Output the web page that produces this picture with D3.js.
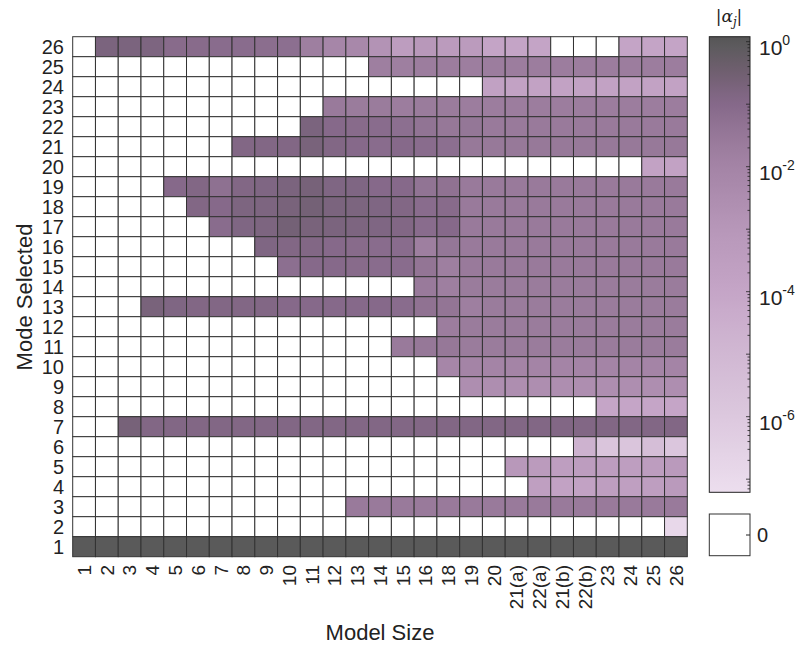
<!DOCTYPE html>
<html>
<head>
<meta charset="utf-8">
<script src="https://cdn.jsdelivr.net/npm/d3@7"></script>
<style>
  body { margin: 0; background: #fff; }
  text { font-family: "Liberation Sans", Arial, sans-serif; fill: #222; }
</style>
</head>
<body>
<svg id="chart" width="795" height="649"></svg>
<script>
// model sizes along x
const sizes = ["1","2","3","4","5","6","7","8","9","10","11","12","13","14","15","16",
  "18","19","20","21(a)","22(a)","21(b)","22(b)","23","24","25","26"];
// modes, listed top row first
const modes = [26,25,24,23,22,21,20,19,18,17,16,15,14,13,12,11,10,9,8,7,6,5,4,3,2,1];

// log10 |alpha_j| per cell, null = exactly zero (white). one row per mode, top first
const N = null;
const logAlpha = [
  /*26*/ [N,-0.75,-0.75,-0.8,-1.05,-1.05,-1.1,-1.1,-1.15,-1.2, -1.8,-2.1,-2.2,-2.8,-3.4,-3.1,-3.3,-3.3,-3.9,-3.9, -3.9,N,N,N,-3.9,-3.9,-3.9],
  /*25*/ [N,N,N,N,N,N,N,N,N,N, N,N,N,-1.8,-1.8,-1.7,-1.7,-1.75,-1.7,-1.7, -1.7,-1.7,-1.7,-1.7,-1.7,-1.7,-1.7],
  /*24*/ [N,N,N,N,N,N,N,N,N,N, N,N,N,N,N,N,N,N,-3.7,-3.8, -3.8,-3.8,-3.8,-3.8,-3.8,-3.8,-3.8],
  /*23*/ [N,N,N,N,N,N,N,N,N,N, N,-1.6,-1.65,-1.65,-1.7,-1.65,-1.65,-1.7,-1.7,-1.7, -1.7,-1.7,-1.7,-1.7,-1.7,-1.7,-1.7],
  /*22*/ [N,N,N,N,N,N,N,N,N,N, -0.75,-1.0,-1.05,-1.1,-1.2,-1.35,-1.5,-1.45,-1.6,-1.6, -1.6,-1.6,-1.6,-1.6,-1.6,-1.6,-1.6],
  /*21*/ [N,N,N,N,N,N,N,-0.9,-0.9,-0.9, -0.7,-0.9,-1.0,-1.1,-1.0,-1.1,-1.2,-1.55,-1.55,-1.55, -1.55,-1.55,-1.55,-1.55,-1.55,-1.55,-1.55],
  /*20*/ [N,N,N,N,N,N,N,N,N,N, N,N,N,N,N,N,N,N,N,N, N,N,N,N,N,-3.8,-3.8],
  /*19*/ [N,N,N,N,-1.0,-0.9,-1.25,-0.9,-0.85,-0.75, -0.65,-0.85,-0.85,-1.0,-1.0,-1.35,-1.3,-1.6,-1.6,-1.6, -1.6,-1.6,-1.6,-1.6,-1.6,-1.6,-1.6],
  /*18*/ [N,N,N,N,N,-0.9,-1.0,-0.8,-0.8,-0.7, -0.6,-0.75,-0.78,-0.85,-0.9,-1.1,-1.05,-1.6,-1.6,-1.6, -1.6,-1.6,-1.6,-1.6,-1.6,-1.6,-1.6],
  /*17*/ [N,N,N,N,N,N,-1.1,-0.85,-0.8,-0.6, -0.7,-0.75,-0.8,-0.85,-0.9,-1.1,-1.0,-1.6,-1.6,-1.6, -1.6,-1.6,-1.6,-1.6,-1.6,-1.6,-1.6],
  /*16*/ [N,N,N,N,N,N,N,N,-0.85,-0.9, -0.9,-1.0,-1.05,-1.1,-1.1,-1.8,-1.45,-1.6,-1.6,-1.6, -1.6,-1.6,-1.6,-1.6,-1.6,-1.6,-1.6],
  /*15*/ [N,N,N,N,N,N,N,N,N,-1.2, -1.0,-1.0,-1.05,-1.1,-1.1,-1.4,-1.8,-1.6,-1.6,-1.6, -1.6,-1.6,-1.6,-1.6,-1.6,-1.6,-1.6],
  /*14*/ [N,N,N,N,N,N,N,N,N,N, N,N,N,N,N,-1.6,-1.8,-1.65,-1.65,-1.65, -1.65,-1.65,-1.65,-1.65,-1.65,-1.65,-1.65],
  /*13*/ [N,N,N,-0.7,-0.85,-0.9,-0.9,-0.9,-0.9,-1.0, -1.0,-1.0,-1.0,-1.0,-1.1,-1.3,-1.4,-1.8,-1.65,-1.65, -1.65,-1.65,-1.65,-1.65,-1.65,-1.65,-1.65],
  /*12*/ [N,N,N,N,N,N,N,N,N,N, N,N,N,N,N,N,-1.7,-1.65,-1.65,-1.65, -1.65,-1.65,-1.65,-1.65,-1.65,-1.65,-1.65],
  /*11*/ [N,N,N,N,N,N,N,N,N,N, N,N,N,N,-1.6,-1.5,-1.5,-1.65,-1.65,-1.65, -1.65,-1.65,-1.65,-1.65,-1.65,-1.65,-1.65],
  /*10*/ [N,N,N,N,N,N,N,N,N,N, N,N,N,N,N,N,-2.1,-2.0,-2.0,-2.0, -2.0,-2.0,-2.0,-2.0,-2.0,-2.0,-2.0],
  /* 9*/ [N,N,N,N,N,N,N,N,N,N, N,N,N,N,N,N,N,-2.5,-2.5,-2.5, -2.5,-2.5,-2.5,-2.5,-2.5,-2.5,-2.5],
  /* 8*/ [N,N,N,N,N,N,N,N,N,N, N,N,N,N,N,N,N,N,N,N, N,N,N,-4.0,-4.0,-4.0,-4.0],
  /* 7*/ [N,N,-0.65,-0.9,-0.9,-0.9,-0.9,-0.9,-0.9,-0.9, -0.9,-0.9,-0.9,-0.9,-0.9,-0.9,-0.9,-0.9,-0.9,-0.9, -0.9,-0.9,-0.9,-0.9,-0.9,-0.9,-0.9],
  /* 6*/ [N,N,N,N,N,N,N,N,N,N, N,N,N,N,N,N,N,N,N,N, N,N,-4.7,-5.8,-5.8,-5.4,-5.9],
  /* 5*/ [N,N,N,N,N,N,N,N,N,N, N,N,N,N,N,N,N,N,N,-3.1, -3.3,-3.5,-3.4,-3.4,-3.5,-3.4,-3.2],
  /* 4*/ [N,N,N,N,N,N,N,N,N,N, N,N,N,N,N,N,N,N,N,N, -3.6,-3.8,-3.8,-3.5,-3.6,-3.5,-3.2],
  /* 3*/ [N,N,N,N,N,N,N,N,N,N, N,N,-1.6,-1.6,-1.6,-1.6,-1.6,-1.6,-1.6,-1.6, -1.6,-1.6,-1.6,-1.6,-1.6,-1.6,-1.6],
  /* 2*/ [N,N,N,N,N,N,N,N,N,N, N,N,N,N,N,N,N,N,N,N, N,N,N,N,N,N,-6.9],
  /* 1*/ [0,0,0,0,0,0,0,0,0,0, 0,0,0,0,0,0,0,0,0,0, 0,0,0,0,0,0,0]
];

// colorbar range (log10) and labelled decades
const cbDomain = [-7.21, 0.08];
const cbLabels = [0, -2, -4, -6];

const svg = d3.select("#chart");

const x = d3.scaleBand().domain(sizes).range([72.7, 687.3]);
const y = d3.scaleBand().domain(modes).range([36.7, 556.7]);

const color = d3.scaleLinear()
    .domain([0.08, 0, -0.5, -1, -1.5, -2, -3, -4, -5, -6, -7.21])
    .range(["#565656", "#5a5a5a", "#705f71", "#86698a", "#967898", "#a484a6",
            "#b797b9", "#c5a5c7", "#d1b8d3", "#dcc8de", "#ecdeee"])
    .clamp(true);

// cells
const cells = [];
logAlpha.forEach((row, i) => row.forEach((v, j) => cells.push({mode: modes[i], size: sizes[j], v})));

svg.append("g")
  .selectAll("rect")
  .data(cells)
  .join("rect")
    .attr("x", d => x(d.size))
    .attr("y", d => y(d.mode))
    .attr("width", x.bandwidth())
    .attr("height", y.bandwidth())
    .attr("fill", d => d.v === null ? "#fff" : color(d.v))
    .attr("stroke", "#333")
    .attr("stroke-width", 1);

// y tick labels
svg.append("g")
  .selectAll("text")
  .data(modes)
  .join("text")
    .attr("x", 64)
    .attr("y", d => y(d) + y.bandwidth() / 2)
    .attr("dy", "0.36em")
    .attr("text-anchor", "end")
    .attr("font-size", 20)
    .text(d => d);

// x tick labels (rotated)
svg.append("g")
  .selectAll("text")
  .data(sizes)
  .join("text")
    .attr("transform", d => `translate(${x(d) + x.bandwidth() / 2},565) rotate(-90)`)
    .attr("dy", "0.36em")
    .attr("text-anchor", "end")
    .attr("font-size", 19)
    .text(d => d);

svg.append("text")
    .attr("x", 380).attr("y", 640)
    .attr("text-anchor", "middle")
    .attr("font-size", 22)
    .text("Model Size");

svg.append("text")
    .attr("transform", "translate(32,297) rotate(-90)")
    .attr("text-anchor", "middle")
    .attr("font-size", 22)
    .text("Mode Selected");

// colorbar
const cbX = 709.3, cbW = 40.7, cbTop = 36.7, cbBot = 492.3;
const cbScale = d3.scaleLinear().domain(cbDomain).range([cbBot, cbTop]);

const grad = svg.append("defs").append("linearGradient")
    .attr("id", "cbgrad")
    .attr("x1", 0).attr("y1", 1).attr("x2", 0).attr("y2", 0);
grad.selectAll("stop")
  .data(d3.range(0, 41))
  .join("stop")
    .attr("offset", d => d / 40)
    .attr("stop-color", d => color(cbDomain[0] + (cbDomain[1] - cbDomain[0]) * d / 40));

svg.append("rect")
    .attr("x", cbX).attr("y", cbTop)
    .attr("width", cbW).attr("height", cbBot - cbTop)
    .attr("fill", "url(#cbgrad)")
    .attr("stroke", "#222").attr("stroke-width", 1);

// log ticks on the right edge, pointing inward
const cbTicks = [];
for (let k = 0; k >= -8; k--) {
  for (let m = 1; m <= 9; m++) {
    const lv = k + Math.log10(m);
    if (lv >= cbDomain[0] && lv <= cbDomain[1]) cbTicks.push({lv, major: m === 1});
  }
}
svg.append("g")
  .selectAll("line")
  .data(cbTicks)
  .join("line")
    .attr("x1", cbX + cbW)
    .attr("x2", d => cbX + cbW - (d.major ? 4 : 2.5))
    .attr("y1", d => cbScale(d.lv))
    .attr("y2", d => cbScale(d.lv))
    .attr("stroke", "#222")
    .attr("stroke-width", 0.8);

const cbl = svg.append("g")
  .selectAll("text")
  .data(cbLabels)
  .join("text")
    .attr("x", 759)
    .attr("y", d => cbScale(d) + 13)
    .attr("font-size", 21);
cbl.append("tspan").text("10");
cbl.append("tspan")
    .attr("font-size", 14)
    .attr("dy", -10)
    .text(d => d === 0 ? "0" : "-" + (-d));

// zero box
svg.append("rect")
    .attr("x", cbX).attr("y", 514)
    .attr("width", cbW).attr("height", 41.7)
    .attr("fill", "#fff")
    .attr("stroke", "#333").attr("stroke-width", 1);
svg.append("line")
    .attr("x1", cbX + cbW).attr("x2", cbX + cbW - 4)
    .attr("y1", 535).attr("y2", 535)
    .attr("stroke", "#222");
svg.append("text")
    .attr("x", 757).attr("y", 535)
    .attr("dy", "0.36em")
    .attr("font-size", 20)
    .text("0");

// colorbar title |alpha_j|
const title = svg.append("text")
    .attr("x", 729).attr("y", 22)
    .attr("text-anchor", "middle")
    .attr("font-size", 17)
    .style("font-family", "'DejaVu Serif', 'Liberation Serif', serif");
title.append("tspan").text("|");
title.append("tspan").attr("font-style", "italic").text("α");
title.append("tspan").attr("font-style", "italic").attr("font-size", 12).attr("dy", 4).text("j");
title.append("tspan").attr("dy", -4).text("|");
</script>
</body>
</html>
